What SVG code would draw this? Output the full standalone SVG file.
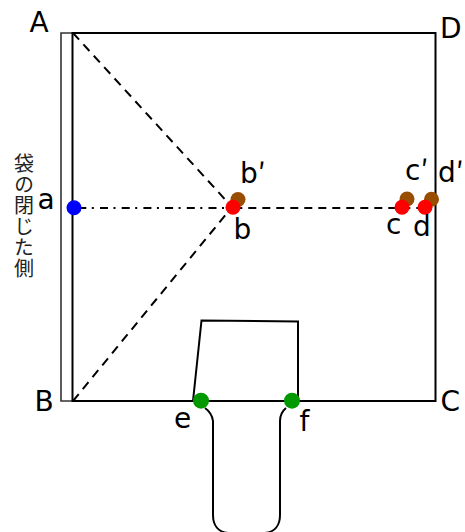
<svg xmlns="http://www.w3.org/2000/svg" width="465" height="532" viewBox="0 0 465 532">
<style>
.l{fill:none;stroke:#000;stroke-width:2}
.d{fill:none;stroke:#000;stroke-width:2;stroke-dasharray:9 6.400}
.h{fill:none;stroke:#000;stroke-width:2;stroke-dasharray:8 6}
.dd{fill:none;stroke:#000;stroke-width:2;stroke-dasharray:8 5.500 2 6.200}
.t{font-family:"DejaVu Sans",sans-serif;font-size:28px;fill:#000}
.p{font-family:"Noto Sans CJK JP",sans-serif}
.v{font-family:"Noto Sans CJK JP",sans-serif;font-size:20px;letter-spacing:1px;fill:#222;writing-mode:vertical-rl}
</style>
<rect width="465" height="532" fill="#fff"/>
<g id="connectors">
<path d="M72 33H61V401H72" fill="none" stroke="#333" stroke-width="1.6"/>
<rect class="l" x="72.500" y="33" width="363" height="368"/>
<path class="d" d="M73 33L232 207"/>
<path class="d" d="M73 401L232 207"/>
<path class="h" d="M234.300 208H425"/>
<path class="dd" d="M78.300 208H228"/>
<path class="l" d="M193 401L201.500 320.500L298 321.500V401"/>
<path class="l" d="M205 408Q212 413 213 421V515C213 525 218 532 228 533H265C275 532 280 525 280 515V421Q280 413 286 408"/>
</g>
<g id="node-a"><circle cx="74" cy="207.700" r="7.500" fill="#0000ff"/><text class="t" x="37.500" y="209">a</text></g>
<g id="node-A"><text class="t" x="29.500" y="32">A</text></g>
<g id="node-B"><text class="t" x="34.500" y="411">B</text></g>
<g id="node-C"><text class="t" x="440.500" y="411">C</text></g>
<g id="node-D"><text class="t" x="440" y="38">D</text></g>
<g id="node-b-prime"><circle cx="238" cy="199.500" r="7.500" fill="#994d00"/><text class="t" x="240" y="183">b<tspan class="p">′</tspan></text></g>
<g id="node-b"><circle cx="233" cy="207.300" r="7.500" fill="#ff0000"/><text class="t" x="233.500" y="238.500">b</text></g>
<g id="node-c-prime"><circle cx="407" cy="199" r="7.500" fill="#994d00"/><text class="t" x="405" y="180">c<tspan class="p">′</tspan></text></g>
<g id="node-c"><circle cx="402" cy="207.300" r="7.500" fill="#ff0000"/><text class="t" x="386" y="234">c</text></g>
<g id="node-d-prime"><circle cx="431.500" cy="199.300" r="7.500" fill="#994d00"/><text class="t" x="438" y="182">d<tspan class="p">′</tspan></text></g>
<g id="node-d"><circle cx="425" cy="207.300" r="7.500" fill="#ff0000"/><text class="t" x="413" y="236">d</text></g>
<g id="node-e"><circle cx="201" cy="400.700" r="8" fill="#009900"/><text class="t" x="174" y="428">e</text></g>
<g id="node-f"><circle cx="292" cy="400.700" r="8" fill="#009900"/><text class="t" x="299.500" y="431">f</text></g>
<g id="side-label"><text class="v" x="24" y="153">袋の閉じた側</text></g>
</svg>
